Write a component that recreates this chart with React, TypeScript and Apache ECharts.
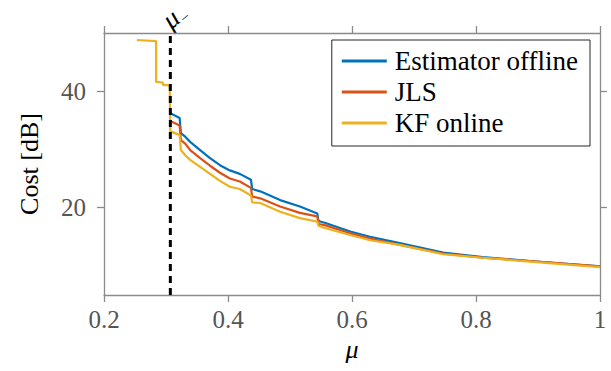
import React, { useEffect, useRef } from "react";
import * as echarts from "echarts";

const muGrid = [0.307, 0.322, 0.324, 0.331, 0.339, 0.355, 0.371, 0.387, 0.403, 0.419, 0.437, 0.439, 0.452, 0.484, 0.516, 0.544, 0.546, 0.556, 0.597, 0.629, 0.677, 0.747, 0.811, 0.892, 1.0];
const estimatorOffline = [36.2, 35.4, 32.8, 32.2, 31.3, 29.9, 28.5, 27.3, 26.4, 25.8, 24.8, 23.2, 22.8, 21.3, 20.2, 19.0, 17.7, 17.4, 15.9, 15.0, 13.9, 12.3, 11.5, 10.8, 9.9];
const jls = [34.9, 34.1, 31.6, 31.0, 29.9, 28.5, 27.2, 26.0, 25.0, 24.5, 23.4, 21.9, 21.6, 20.2, 19.1, 18.5, 17.2, 17.0, 15.6, 14.7, 13.6, 12.1, 11.4, 10.8, 9.9];
const kfPrefixMu = [0.253, 0.284, 0.284, 0.295, 0.295, 0.306];
const kfPrefixCost = [48.8, 48.6, 41.6, 41.5, 41.1, 41.0];
const kfOnline = [33.1, 32.5, 29.9, 29.0, 28.2, 27.0, 25.8, 24.6, 23.6, 23.2, 22.1, 20.9, 20.8, 19.3, 18.2, 17.6, 16.9, 16.5, 15.3, 14.4, 13.6, 12.0, 11.4, 10.7, 9.8];
const muStar = 0.307;
const xTicks = [0.2, 0.4, 0.6, 0.8, 1];
const yTicks = [20, 40];
const xRange = [0.2, 1];
const yRange = [5, 50];

const SERIF = "Liberation Serif";
const AXIS_GRAY = "#8a8a8a";
const LABEL_GRAY = "#555555";

const pair = (xs: number[], ys: number[]) => xs.map((x, i) => [x, ys[i]]);

export default function App() {
  const ref = useRef<HTMLDivElement>(null);
  useEffect(() => {
    const chart = echarts.init(ref.current!, null, { renderer: "svg" });
    const baseAxisLine = { show: true, lineStyle: { color: AXIS_GRAY, width: 1.3 } };
    const xTick = { show: true, inside: false, length: 7, customValues: xTicks, lineStyle: { color: AXIS_GRAY, width: 1.3 } };
    const yTick = { show: true, inside: false, length: 7, customValues: yTicks, lineStyle: { color: AXIS_GRAY, width: 1.3 } };
    const option: any = {
      animation: false,
      backgroundColor: "#ffffff",
      textStyle: { fontFamily: SERIF },
      grid: { left: 104, right: 11, top: 33, bottom: 76, containLabel: false },
      legend: {
        show: true,
        orient: "vertical",
        right: 21,
        top: 40,
        data: ["Estimator offline", "JLS", "KF online"],
        icon: "rect",
        itemWidth: 45,
        itemHeight: 3,
        itemGap: 1,
        padding: [6, 12, 8, 10],
        backgroundColor: "#ffffff",
        borderColor: "#262626",
        borderWidth: 1,
        textStyle: { fontFamily: SERIF, fontSize: 27, color: "#000", lineHeight: 30, padding: [0, 0, 0, 3] },
      },
      xAxis: [
        {
          type: "value",
          min: xRange[0],
          max: xRange[1],
          position: "bottom",
          axisLine: baseAxisLine,
          axisTick: xTick,
          splitLine: { show: false },
          axisLabel: {
            customValues: xTicks,
            formatter: (v: number) => String(Math.round(v * 10) / 10),
            fontFamily: SERIF,
            fontSize: 25,
            color: LABEL_GRAY,
            margin: 12,
          },
          name: "μ",
          nameLocation: "middle",
          nameGap: 40,
          nameTextStyle: { fontFamily: SERIF, fontSize: 26, fontStyle: "italic", color: "#000" },
        },
        {
          type: "value",
          min: xRange[0],
          max: xRange[1],
          position: "top",
          axisLine: baseAxisLine,
          axisTick: xTick,
          splitLine: { show: false },
          axisLabel: { show: false },
        },
      ],
      yAxis: [
        {
          type: "value",
          min: yRange[0],
          max: yRange[1],
          position: "left",
          axisLine: baseAxisLine,
          axisTick: yTick,
          splitLine: { show: false },
          axisLabel: {
            customValues: yTicks,
            fontFamily: SERIF,
            fontSize: 25,
            color: LABEL_GRAY,
            margin: 18,
          },
          name: "Cost [dB]",
          nameLocation: "middle",
          nameGap: 62,
          nameTextStyle: { fontFamily: SERIF, fontSize: 26, color: "#000" },
        },
        {
          type: "value",
          min: yRange[0],
          max: yRange[1],
          position: "right",
          axisLine: baseAxisLine,
          axisTick: yTick,
          splitLine: { show: false },
          axisLabel: { show: false },
        },
      ],
      series: [
        {
          name: "Estimator offline",
          type: "line",
          data: pair(muGrid, estimatorOffline),
          showSymbol: false,
          symbol: "none",
          color: "#0072BD",
          lineStyle: { color: "#0072BD", width: 2.2 },
          z: 2,
        },
        {
          name: "JLS",
          type: "line",
          data: pair(muGrid, jls),
          showSymbol: false,
          symbol: "none",
          color: "#D95319",
          lineStyle: { color: "#D95319", width: 2.2 },
          z: 3,
        },
        {
          name: "KF online",
          type: "line",
          data: pair(kfPrefixMu, kfPrefixCost).concat(pair(muGrid, kfOnline)),
          showSymbol: false,
          symbol: "none",
          color: "#EDB120",
          lineStyle: { color: "#EDB120", width: 2.2 },
          z: 4,
        },
        {
          name: "muStar",
          type: "line",
          data: [[muStar, yRange[0]], [muStar, yRange[1]]],
          showSymbol: false,
          symbol: "none",
          color: "#000",
          lineStyle: { color: "#000", width: 3, type: [7, 5] },
          z: 5,
        },
      ],
    };
    chart.setOption(option);
    const p = chart.convertToPixel({ xAxisIndex: 0, yAxisIndex: 0 }, [muStar, yRange[1]]) as number[];
    chart.setOption({
      graphic: [
        {
          type: "group",
          x: p[0] + 1,
          y: p[1] - 3,
          rotation: (40 * Math.PI) / 180,
          children: [
            {
              type: "text",
              x: 0,
              y: 0,
              style: {
                text: "μ",
                fontFamily: SERIF,
                fontSize: 27,
                lineHeight: 18,
                fontStyle: "italic",
                fill: "#000",
                textAlign: "left",
                textVerticalAlign: "bottom",
              },
            },
            {
              type: "text",
              x: 15,
              y: 3,
              style: {
                text: "‒",
                fontFamily: SERIF,
                fontSize: 14,
                lineHeight: 10,
                fill: "#000",
                textAlign: "left",
                textVerticalAlign: "bottom",
              },
            },
          ],
        },
      ],
    });
    return () => chart.dispose();
  }, []);
  return <div ref={ref} style={{ position: "absolute", left: 0, top: 0, width: 611, height: 371 }} />;
}
